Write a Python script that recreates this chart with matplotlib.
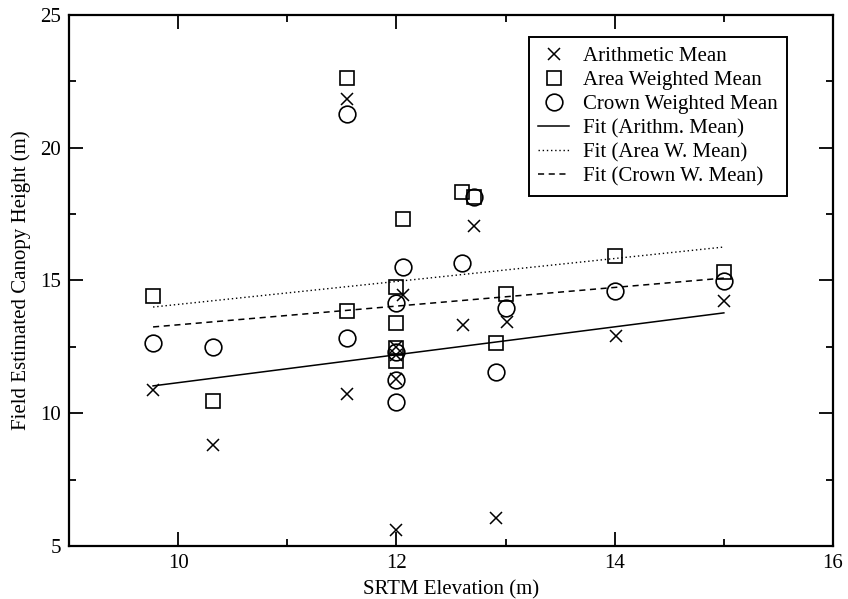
import matplotlib
matplotlib.use("Agg")
import matplotlib.pyplot as plt
from matplotlib.ticker import MultipleLocator

# SRTM elevation (m) and field estimated canopy heights (m)
arith_x = [9.77, 10.32, 11.55, 11.55, 12.06, 12.0, 12.0, 12.0, 12.0, 12.61, 12.71, 12.91, 13.01, 14.01, 15.0]
arith_y = [10.88, 8.80, 21.84, 10.73, 14.45, 12.50, 12.20, 11.30, 5.60, 13.32, 17.05, 6.06, 13.44, 12.91, 14.23]

area_x = [9.77, 10.32, 11.55, 11.55, 12.06, 12.0, 12.0, 12.0, 12.0, 12.6, 12.71, 12.91, 13.0, 14.0, 15.0]
area_y = [14.42, 10.46, 22.63, 13.85, 17.32, 14.76, 13.40, 12.45, 11.95, 18.33, 18.15, 12.65, 14.49, 15.92, 15.32]

crown_x = [9.77, 10.32, 11.55, 11.55, 12.06, 12.0, 12.0, 12.0, 12.0, 12.6, 12.71, 12.91, 13.0, 14.0, 15.0]
crown_y = [12.65, 12.50, 21.27, 12.83, 15.51, 14.15, 12.30, 11.25, 10.42, 15.66, 18.15, 11.55, 13.96, 14.60, 14.98]

# fitted lines, end points
fit_x = [9.77, 15.0]
fit_arith = [11.03, 13.78]
fit_area = [14.00, 16.26]
fit_crown = [13.25, 15.09]

plt.rcParams["font.family"] = ["Liberation Serif", "DejaVu Serif"]
plt.rcParams["font.size"] = 15

fig = plt.figure(figsize=(8.48, 5.99), dpi=100)
ax = fig.add_axes([0.0814, 0.0885, 0.9009, 0.8865])

ax.plot(arith_x, arith_y, linestyle="none", marker="x", markersize=9,
        markeredgewidth=1.1, color="black", label="Arithmetic Mean")
ax.plot(area_x, area_y, linestyle="none", marker="s", markersize=10,
        markeredgewidth=1.2, markerfacecolor="none", color="black", label="Area Weighted Mean")
ax.plot(crown_x, crown_y, linestyle="none", marker="o", markersize=12,
        markeredgewidth=1.2, markerfacecolor="none", color="black", label="Crown Weighted Mean")
ax.plot(fit_x, fit_arith, "-", color="black", linewidth=1.1, label="Fit (Arithm. Mean)")
ax.plot(fit_x, fit_area, linestyle=(0, (1, 2)), color="black", linewidth=1.0, label="Fit (Area W. Mean)")
ax.plot(fit_x, fit_crown, linestyle=(0, (4, 3)), color="black", linewidth=1.1, label="Fit (Crown W. Mean)")

ax.set_xlim(9, 16)
ax.set_ylim(5, 25)
ax.xaxis.set_major_locator(MultipleLocator(2))
ax.xaxis.set_minor_locator(MultipleLocator(1))
ax.yaxis.set_major_locator(MultipleLocator(5))
ax.yaxis.set_minor_locator(MultipleLocator(2.5))
ax.tick_params(which="both", direction="in", top=True, right=True, width=1.3)
ax.tick_params(which="major", length=10, pad=6, labelsize=15)
ax.tick_params(which="minor", length=5)
for s in ax.spines.values():
    s.set_linewidth(1.6)

ax.set_xlabel("SRTM Elevation (m)", fontsize=15, labelpad=5)
ax.set_ylabel("Field Estimated Canopy Height (m)", fontsize=15, labelpad=6)

leg = ax.legend(loc="upper right", bbox_to_anchor=(0.94, 0.9586), borderaxespad=0,
                fancybox=False, framealpha=1, edgecolor="black", fontsize=15,
                handlelength=1.5, labelspacing=0.22, handletextpad=0.65, borderpad=0.45)
leg.get_frame().set_linewidth(1.4)

fig.savefig("out.png", dpi=100)
